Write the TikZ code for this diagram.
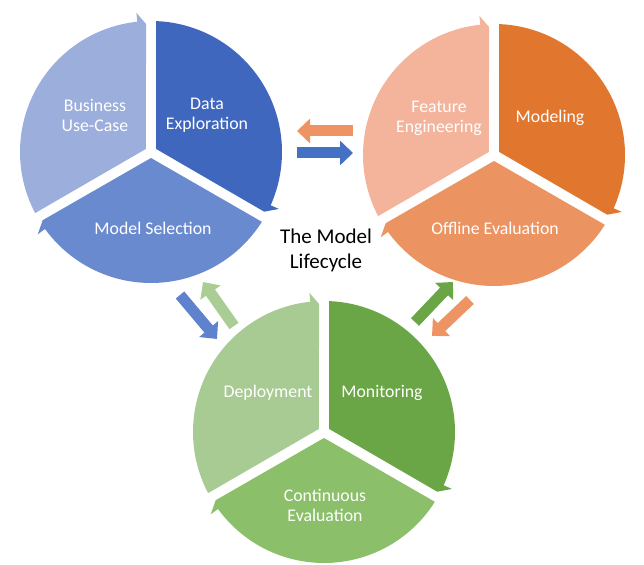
\documentclass[tikz,border=0pt]{standalone}
\usepackage{fontspec}
\setmainfont{Carlito}
\usetikzlibrary{calc,arrows.meta}
\definecolor{blA}{HTML}{9CAEDC}
\definecolor{blB}{HTML}{3F67BD}
\definecolor{blC}{HTML}{6A8AD0}
\definecolor{orA}{HTML}{F4B49C}
\definecolor{orB}{HTML}{E1772F}
\definecolor{orC}{HTML}{EC9362}
\definecolor{gnA}{HTML}{A8CB93}
\definecolor{gnB}{HTML}{6AA646}
\definecolor{gnC}{HTML}{8BBF6A}
\definecolor{arO}{HTML}{EE9464}
\definecolor{arB}{HTML}{4471C4}
\definecolor{arM}{HTML}{5E82CE}
\definecolor{arL}{HTML}{A9CD95}
\definecolor{arG}{HTML}{6AA646}

\newcommand{\segR}{131}
% one segment of a cycle: centre, start angle, end angle, fill
\newcommand{\cycseg}[4]{%
  \fill[#4] ($(#1)+({(#2+#3)/2}:6)$) -- ($(#1)+({#2-2.2}:\segR)$)
    arc[start angle={#2-2.2}, end angle={#3+6}, radius=\segR]
    -- ($(#1)+({#3+6}:{\segR+9})$) -- ($(#1)+({#3+2.2}:{\segR-3})$) -- cycle;}

\begin{document}
\begin{tikzpicture}[x=1pt,y=1pt,
  lbl/.style={text=white,align=center,font=\fontsize{17.8}{20}\selectfont},
  ttl/.style={text=black,align=center,font=\fontsize{21}{25}\selectfont},
  blk/.style={line width=11pt,-{Triangle[length=13pt,width=24pt]}}]
\useasboundingbox (0,0) rectangle (644,564);

\coordinate (lc) at (151,412);
\coordinate (rc) at (494,409);
\coordinate (bc) at (324,132);

% left cycle
\cycseg{lc}{210}{90}{blA}
\cycseg{lc}{90}{-30}{blB}
\cycseg{lc}{-30}{-150}{blC}
\node[lbl] (biz) at ($(lc)+(-56,37)$) {Business\\Use-Case};
\node[lbl] (dex) at ($(lc)+(56,37)$) {Data\\Exploration};
\node[lbl] (msel) at ($(lc)+(2,-76)$) {Model Selection};

% right cycle
\cycseg{rc}{210}{90}{orA}
\cycseg{rc}{90}{-30}{orB}
\cycseg{rc}{-30}{-150}{orC}
\node[lbl] (feng) at ($(rc)+(-55,37)$) {Feature\\Engineering};
\node[lbl] (mdl) at ($(rc)+(56,37)$) {Modeling};
\node[lbl] (offev) at ($(rc)+(1,-73)$) {Offline Evaluation};

% bottom cycle
\cycseg{bc}{210}{90}{gnA}
\cycseg{bc}{90}{-30}{gnB}
\cycseg{bc}{-30}{-150}{gnC}
\node[lbl] (dep) at ($(bc)+(-56,39)$) {Deployment};
\node[lbl] (mon) at ($(bc)+(58,39)$) {Monitoring};
\node[lbl] (cev) at ($(bc)+(1,-73)$) {Continuous\\Evaluation};

\node[ttl] (title) at (326,314) {The Model\\Lifecycle};

% block arrows between the cycles
\coordinate (t1a) at (353,433);
\coordinate (t1b) at (297,433);
\coordinate (t2a) at (297,411);
\coordinate (t2b) at (353,411);
\coordinate (l1a) at (180,269);
\coordinate (l1b) at (217,225);
\coordinate (l2a) at (234,238);
\coordinate (l2b) at (203,282);
\coordinate (r1a) at (415,242);
\coordinate (r1b) at (453,282);
\coordinate (r2a) at (470,264);
\coordinate (r2b) at (432,228);
\draw[blk,arO] (t1a) -- (t1b);
\draw[blk,arB] (t2a) -- (t2b);
\draw[blk,arM] (l1a) -- (l1b);
\draw[blk,arL] (l2a) -- (l2b);
\draw[blk,arG] (r1a) -- (r1b);
\draw[blk,arO] (r2a) -- (r2b);

\end{tikzpicture}
\end{document}
